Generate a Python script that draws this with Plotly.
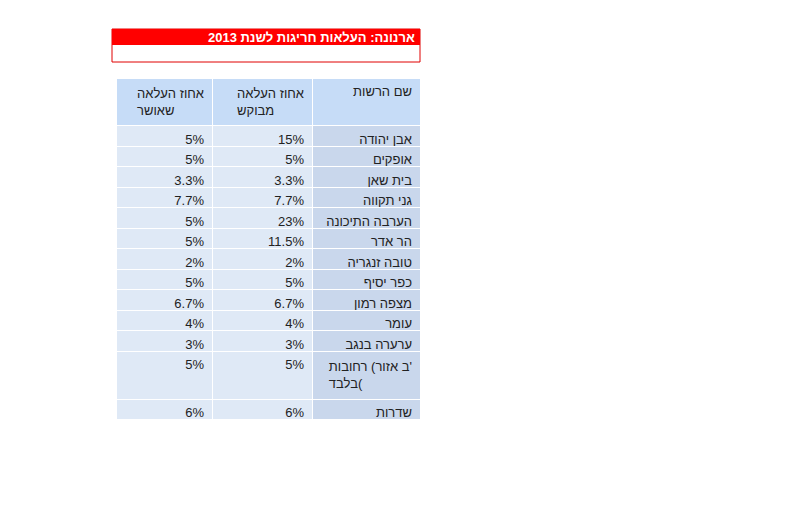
import plotly.graph_objects as go

title = "ארנונה: העלאות חריגות לשנת 2013"
headers = ["אחוז העלאה<br>שאושר", "אחוז העלאה<br>מבוקש", "שם הרשות"]
names = ["אבן יהודה", "אופקים", "בית שאן", "גני תקווה", "הערבה התיכונה", "הר אדר",
         "טובה זנגריה", "כפר יסיף", "מצפה רמון", "עומר", "ערערה בנגב",
         "רחובות\u200e (\u200eאזור\u200e ב'<br>בלבד\u200e(", "שדרות"]
requested = ["15%", "5%", "3.3%", "7.7%", "23%", "11.5%", "2%", "5%", "6.7%", "4%", "3%", "5%", "6%"]
approved = ["5%", "5%", "3.3%", "7.7%", "5%", "5%", "2%", "5%", "6.7%", "4%", "3%", "5%", "6%"]

W, H = 799, 514
OFF = 8  # page body margin
FONT = dict(family="Liberation Sans, Arial", size=13, color="#222")
fig = go.Figure(go.Table(
    columnwidth=[96, 100, 108],
    header=dict(values=headers, fill_color="#c6dcf7", line_color="white", line_width=1,
                align="right", height=14, font=FONT),
    cells=dict(values=[approved, requested, names],
               fill_color=[["#dfe9f6"] * 13, ["#dfe9f6"] * 13, ["#c9d7ec"] * 13],
               line_color="white", line_width=1, align="right", height=20.5, font=FONT),
    domain=dict(x=[(116 - OFF) / W, (420 - OFF) / W], y=[0, 1 - (78 - OFF) / H]),
))
fig.update_layout(
    width=W, height=H, margin=dict(l=0, r=0, t=0, b=0),
    paper_bgcolor="white", showlegend=False,
    shapes=[
        dict(type="rect", xref="paper", yref="paper", x0=(112 - OFF) / W, x1=(420 - OFF) / W,
             y0=1 - (62 - OFF) / H, y1=1 - (29 - OFF) / H, line=dict(color="#e00000", width=1),
             fillcolor="white"),
        dict(type="rect", xref="paper", yref="paper", x0=(112 - OFF) / W, x1=(420 - OFF) / W,
             y0=1 - (45 - OFF) / H, y1=1 - (29 - OFF) / H, line=dict(width=0), fillcolor="#ff0000"),
    ],
    annotations=[dict(text="<b>" + title + "</b>", xref="paper", yref="paper",
                      x=(417 - OFF) / W, y=1 - (37 - OFF) / H, xanchor="right", yanchor="middle",
                      showarrow=False, font=dict(family="Liberation Sans, Arial", size=13, color="white"))],
)
fig.write_html("out.html")
